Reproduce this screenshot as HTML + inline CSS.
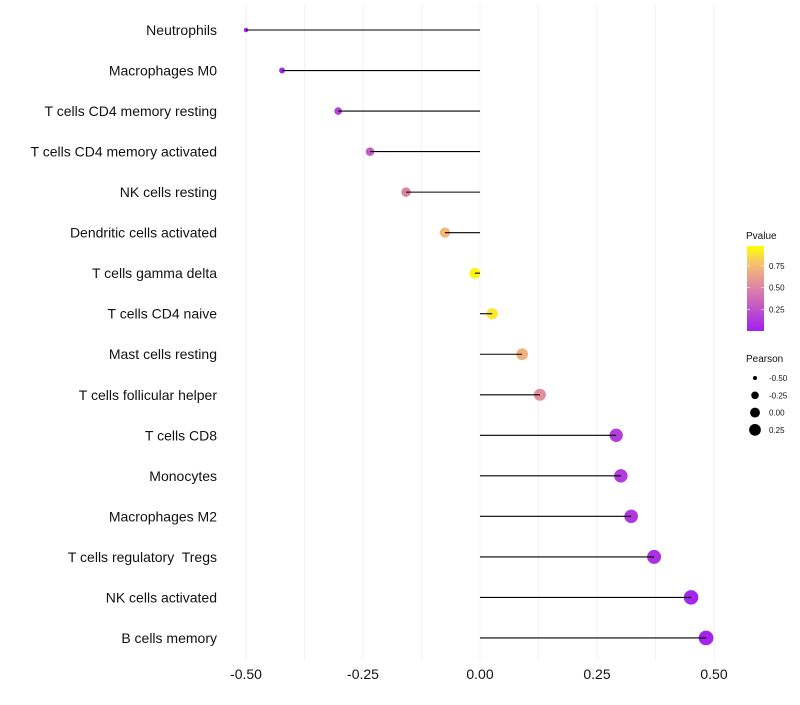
<!DOCTYPE html>
<html><head><meta charset="utf-8"><style>
body{margin:0;background:#fff;font-family:"Liberation Sans",sans-serif}
svg text{font-family:"Liberation Sans",sans-serif;white-space:pre}
</style></head><body>
<svg id="chart" width="800" height="700" xmlns="http://www.w3.org/2000/svg"></svg>
<script>
const categories=["Neutrophils","Macrophages M0","T cells CD4 memory resting","T cells CD4 memory activated","NK cells resting","Dendritic cells activated","T cells gamma delta","T cells CD4 naive","Mast cells resting","T cells follicular helper","T cells CD8","Monocytes","Macrophages M2","T cells regulatory  Tregs","NK cells activated","B cells memory"];
const pearson=[-0.50,-0.423,-0.303,-0.235,-0.158,-0.075,-0.011,0.026,0.090,0.128,0.291,0.301,0.323,0.372,0.451,0.483];
const pvalues=[0.02,0.04,0.18,0.3,0.5,0.75,0.97,0.92,0.72,0.55,0.15,0.14,0.12,0.08,0.03,0.02];
const xTicks=[-0.5,-0.25,0,0.25,0.5];
const xTickLabels=["-0.50","-0.25","0.00","0.25","0.50"];
const legendP=[0.25,0.5,0.75];
const legendSizes=[-0.5,-0.25,0,0.25];

const NS="http://www.w3.org/2000/svg";
const svg=document.getElementById('chart');
function mk(t,a,p){const e=document.createElementNS(NS,t);for(const k in a)e.setAttribute(k,a[k]);(p||svg).appendChild(e);return e;}
const xS=v=>480+v*468;
const yS=i=>30+i*40.53;
const rS=v=>Math.sqrt(Math.max(3,5+(v+0.5)*50));
function col(p){const s=[[0,[160,32,240]],[0.5,[220,130,165]],[0.8,[245,195,110]],[1,[255,255,0]]];
for(let i=0;i<s.length-1;i++){if(p<=s[i+1][0]){const t=(p-s[i][0])/(s[i+1][0]-s[i][0]);const c=s[i][1].map((a,j)=>Math.round(a+(s[i+1][1][j]-a)*t));return `rgb(${c})`;}}return 'rgb(255,255,0)';}

for(let v=-0.5;v<=0.5001;v+=0.125){const g=mk('line',{x1:xS(v),x2:xS(v),y1:5,y2:660,stroke:'#f2f2f2','stroke-width':1});
}
xTicks.forEach((v,i)=>{const t=mk('text',{x:xS(v),y:679,'text-anchor':'middle','font-size':14,fill:'#111'});t.textContent=xTickLabels[i];
});
categories.forEach((c,i)=>{const y=yS(i);
const t=mk('text',{x:217,y:y+5,'text-anchor':'end','font-size':14,fill:'#111'});t.textContent=c;

const p=mk('circle',{cx:xS(pearson[i]),cy:y,r:rS(pearson[i]),fill:col(pvalues[i])});

const l=mk('line',{x1:xS(0),x2:xS(pearson[i]),y1:y,y2:y,stroke:'#000','stroke-width':1.1});
});

const lt=mk('text',{x:746,y:239,'font-size':10,fill:'#111'});lt.textContent='Pvalue';

const defs=mk('defs',{});const gr=mk('linearGradient',{id:'pg',x1:0,y1:1,x2:0,y2:0},defs);
[0,0.25,0.5,0.65,0.8,1].forEach(o=>mk('stop',{offset:o,'stop-color':col(o)},gr));
const bar=mk('rect',{x:747,y:246,width:17,height:85,fill:'url(#pg)'});

legendP.forEach(p=>{const y=331-p*(85/0.98);
const tl=mk('text',{x:769,y:y+3,'font-size':8,fill:'#111'});tl.textContent=p.toFixed(2);

mk('line',{x1:747,x2:750,y1:y,y2:y,stroke:'#fff','stroke-width':0.6});mk('line',{x1:761,x2:764,y1:y,y2:y,stroke:'#fff','stroke-width':0.6});});
const pt=mk('text',{x:746,y:362,'font-size':10,fill:'#111'});pt.textContent='Pearson';

legendSizes.forEach((v,i)=>{const y=378+i*17.3;
const c=mk('circle',{cx:755,cy:y,r:rS(v)*0.9,fill:'#000'});

const t=mk('text',{x:769,y:y+3,'font-size':8,fill:'#111'});t.textContent=v.toFixed(2);
});
</script>
</body></html>
